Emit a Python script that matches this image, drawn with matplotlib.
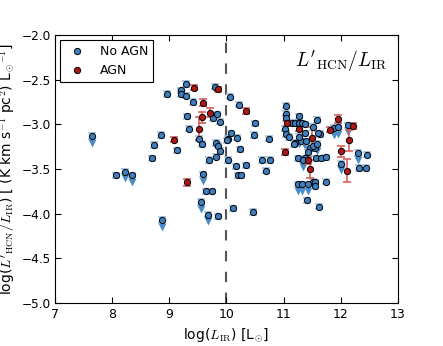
import matplotlib
matplotlib.use("Agg")
import matplotlib.pyplot as plt
import numpy as np

# ---------------- data ----------------
# No AGN, detections
noagn_x = [8.96, 9.30, 9.21, 9.21, 9.30, 9.41, 9.80, 10.06, 10.22,
           9.31, 9.35, 9.77, 9.84, 9.89,
           8.86, 8.74, 8.70, 9.13, 9.52, 9.58, 9.81, 9.86, 9.89, 9.82, 9.70,
           10.08, 10.03, 10.01, 10.19, 10.24, 10.03, 10.16, 10.21, 10.25, 10.35, 10.12,
           8.06, 9.65, 9.75, 9.85,
           10.50, 10.49, 10.74, 10.63, 10.76, 10.69, 10.47,
           11.05, 11.05, 11.05, 11.14, 11.20, 11.27, 11.33, 11.37, 11.27,
           11.03, 11.05, 11.09, 11.59, 11.52, 11.63, 11.37, 11.61, 11.20, 11.31,
           11.46, 11.55, 11.52, 11.43,
           11.26, 11.37, 11.56, 11.65, 11.75,
           11.51, 11.55, 11.55, 11.74, 11.41, 11.62,
           12.46, 12.32, 12.44, 11.19]
noagn_y = [-2.66, -2.55, -2.62, -2.66, -2.68, -2.75, -2.58, -2.69, -2.78,
           -2.91, -3.05, -2.93, -2.89, -2.97,
           -3.12, -3.23, -3.38, -3.29, -3.16, -3.22, -3.21, -3.24, -3.30, -3.36, -3.40,
           -3.10, -3.16, -3.18, -3.15, -3.28, -3.40, -3.47, -3.57, -3.57, -3.46, -3.94,
           -3.57, -3.75, -3.75, -4.03,
           -2.99, -3.12, -3.16, -3.40, -3.40, -3.52, -3.98,
           -2.79, -2.88, -2.93, -2.98, -2.98, -2.99, -2.99, -3.00, -2.91,
           -3.05, -3.11, -3.14, -2.95, -3.03, -3.11, -3.10, -3.10, -3.21, -3.19,
           -3.27, -3.27, -3.24, -3.31,
           -3.38, -3.38, -3.38, -3.38, -3.37,
           -3.64, -3.65, -3.69, -3.64, -3.85, -3.92,
           -3.34, -3.49, -3.49, -3.22]

# No AGN, upper limits
ul_x = [7.64, 8.23, 8.35, 9.59, 8.87, 9.55, 9.68,
        11.27, 11.34, 11.40, 11.58, 11.26, 11.32, 11.43,
        11.88, 11.95, 12.12, 12.00, 12.31]
ul_y = [-3.13, -3.53, -3.57, -3.56, -4.07, -3.87, -4.01,
        -3.14, -3.40, -3.19, -3.22, -3.67, -3.67, -3.67,
        -3.04, -3.03, -3.01, -3.44, -3.32]

# AGN
agn_x = [9.43, 9.86, 9.59, 9.72, 9.57, 9.52, 9.08, 9.31, 10.34,
         11.06, 11.27, 11.50, 11.02, 11.43, 11.46, 11.82, 11.96,
         12.22, 12.14, 12.00, 12.11]
agn_y = [-2.59, -2.61, -2.76, -2.87, -2.92, -3.05, -3.17, -3.65, -2.85,
         -2.99, -3.05, -3.15, -3.31, -3.40, -3.50, -3.06, -2.94,
         -3.02, -3.18, -3.30, -3.52]
agn_err = [0.03, 0.03, 0.04, 0.05, 0.06, 0.13, 0.03, 0.04, 0.03,
           0.03, 0.03, 0.12, 0.03, 0.04, 0.10, 0.03, 0.04,
           0.03, 0.12, 0.06, 0.13]

det_err = 0.03
xticks = [7, 8, 9, 10, 11, 12, 13]
yticks = [-5.0, -4.5, -4.0, -3.5, -3.0, -2.5, -2.0]

# ---------------- style ----------------
plt.rcParams.update({
    "font.family": ["DejaVu Sans"],
    "mathtext.fontset": "cm",
    "xtick.direction": "in",
    "ytick.direction": "in",
    "xtick.top": True,
    "ytick.right": True,
    "xtick.major.size": 4,
    "ytick.major.size": 4,
    "font.size": 9,
})

blue = "#3f7fc0"
blue_err = "#9cc3e6"
blue_arrow = "#4a8cc8"
red = "#b01818"
red_err = "#d86060"

fig = plt.figure(figsize=(4.43, 3.46), dpi=100)
ax = fig.add_axes([0.124, 0.124, 0.774, 0.775])

ax.axvline(10, color="#555555", ls="--", lw=1.5, dashes=(5, 5), zorder=1)

# upper-limit arrows
ax.plot(ul_x, np.array(ul_y) - 0.075, ls="none", marker="v", ms=6,
        color=blue_arrow, mec="none", zorder=2)

all_bx = noagn_x + ul_x
all_by = noagn_y + ul_y
ax.errorbar(all_bx, all_by, yerr=det_err, fmt="none", ecolor=blue_err,
            elinewidth=1.2, capsize=3, capthick=1.2, zorder=2)
ax.plot(all_bx, all_by, ls="none", marker="o", ms=4.5, mfc=blue,
        mec="black", mew=0.7, zorder=3, label="No AGN")

ax.errorbar(agn_x, agn_y, yerr=agn_err, fmt="none", ecolor=red_err,
            elinewidth=1.2, capsize=3, capthick=1.2, zorder=2)
ax.plot(agn_x, agn_y, ls="none", marker="o", ms=4.5, mfc=red,
        mec="black", mew=0.7, zorder=3, label="AGN")

ax.set_xlim(7, 13)
ax.set_ylim(-5.0, -2.0)
ax.set_xticks(xticks)
ax.set_yticks(yticks)
ax.set_xticklabels([str(t) for t in xticks])
ax.set_yticklabels([f"{t:.1f}".replace("-", "\u2212") for t in yticks])
ax.tick_params(axis="y", labelsize=8.7, pad=3)

ax.set_xlabel(r"log($L_{\rm IR}$) [L$_{\odot}$]", fontsize=10)
ax.set_ylabel(r"log($L'_{\rm HCN}/L_{\rm IR}$) [ (K km s$^{-1}$ pc$^{2}$) L$_{\odot}$$^{-1}$]",
              fontsize=10)
ax.yaxis.set_label_coords(-0.11, 0.5)

ax.text(0.97, 0.95, r"$L'_{\rm HCN}/L_{\rm IR}$", transform=ax.transAxes,
        ha="right", va="top", fontsize=14)

leg = ax.legend(loc="upper left", numpoints=1, fancybox=False, fontsize=9,
                edgecolor="black", framealpha=1, handletextpad=0.8,
                borderaxespad=0.4)
leg.get_frame().set_linewidth(0.8)

fig.savefig("out.png", dpi=100)
